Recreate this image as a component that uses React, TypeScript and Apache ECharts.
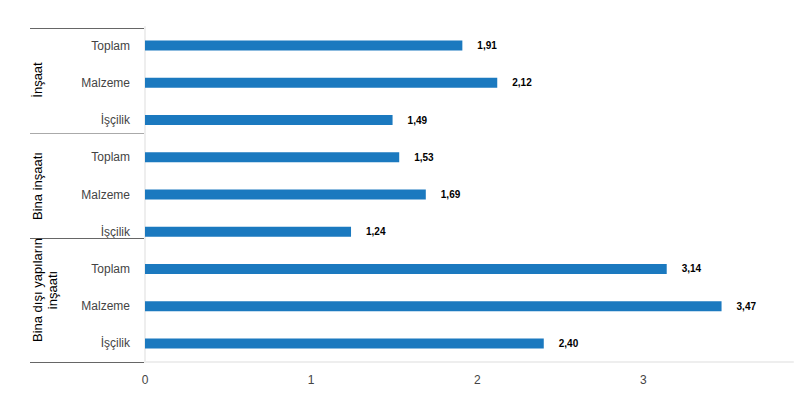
import React, { useEffect, useRef } from "react";
import * as echarts from "echarts";

const groups = ["İnşaat", "Bina inşaatı", "Bina dışı yapıların\ninşaatı"];
const categories = [
  "İnşaat|Toplam", "İnşaat|Malzeme", "İnşaat|İşçilik",
  "Bina inşaatı|Toplam", "Bina inşaatı|Malzeme", "Bina inşaatı|İşçilik",
  "Bina dışı|Toplam", "Bina dışı|Malzeme", "Bina dışı|İşçilik",
];
const values = [1.91, 2.12, 1.49, 1.53, 1.69, 1.24, 3.14, 3.47, 2.4];
const xTicks = [0, 1, 2, 3];

const FONT = "Arial, 'Liberation Sans', sans-serif";

export default function App() {
  const ref = useRef<HTMLDivElement>(null);
  useEffect(() => {
    if (!ref.current) return;
    const chart = echarts.init(ref.current, null, { renderer: "svg" });
    const sepY = [28, 133, 238, 362];
    const groupCenters = [80, 186, 290];
    const graphic: any[] = [];
    sepY.forEach((y, i) => {
      graphic.push({
        type: "line",
        shape: { x1: 30, y1: y + 0.5, x2: 144, y2: y + 0.5 },
        style: { stroke: i === 1 ? "#aaa" : "#666", lineWidth: 1 },
        z: 10,
      });
    });
    groups.forEach((g, i) => {
      graphic.push({
        type: "text",
        x: 30,
        y: groupCenters[i],
        rotation: Math.PI / 2,
        style: {
          text: g,
          font: `13px ${FONT}`,
          fill: "#000",
          textAlign: "center",
          textVerticalAlign: "top",
          lineHeight: 15,
        },
        z: 10,
      });
    });
    chart.setOption({
      animation: false,
      grid: { left: 145, right: 1, top: 27, bottom: 46, containLabel: false },
      xAxis: {
        type: "value",
        min: 0,
        max: 3.9,
        interval: 1,
        axisLine: { show: true, lineStyle: { color: "#eee", width: 2 } },
        axisTick: { show: false },
        splitLine: { show: false },
        axisLabel: {
          margin: 12,
          fontSize: 12,
          color: "#444",
          fontFamily: FONT,
          showMaxLabel: false,
          formatter: (v: number) => (xTicks.includes(v) ? String(v) : ""),
        },
      },
      yAxis: {
        type: "category",
        inverse: true,
        data: categories,
        axisLine: { show: true, lineStyle: { color: "#eee", width: 2 } },
        axisTick: { show: false },
        axisLabel: {
          margin: 15,
          fontSize: 12,
          color: "#444",
          fontFamily: FONT,
          formatter: (v: string) => v.split("|")[1],
        },
      },
      series: [
        {
          type: "bar",
          data: values,
          barWidth: 10,
          itemStyle: { color: "#1b79bf" },
          label: {
            show: true,
            position: "right",
            distance: 15,
            fontSize: 10,
            fontWeight: "bold",
            color: "#000",
            fontFamily: FONT,
            formatter: (p: any) => p.value.toFixed(2).replace(".", ","),
          },
        },
      ],
      graphic,
    });
    return () => chart.dispose();
  }, []);
  return <div ref={ref} style={{ width: 794, height: 408, position: "absolute", left: 0, top: 0 }} />;
}
